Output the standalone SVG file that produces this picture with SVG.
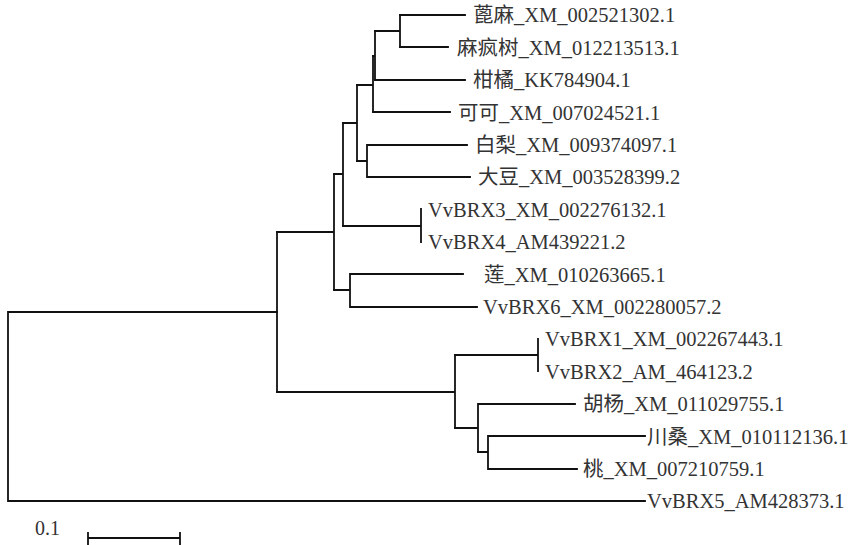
<svg xmlns="http://www.w3.org/2000/svg" width="853" height="545" viewBox="0 0 853 545">
<style>
.br{fill:none;stroke:#111;stroke-width:1.8;stroke-linecap:square}
.lb{fill:#333}
</style>
<rect width="853" height="545" fill="#fff"/>
<g id="connectors" class="br">
<path d="M8,312 V501 M8,312 H277 M8,501 H645"/>
<path d="M277,232 V392"/>
<path d="M277,232 H334 M334,174 V290"/>
<path d="M334,174 H343 M343,123 V226"/>
<path d="M343,123 H357 M357,85 V161"/>
<path d="M357,85 H373 M373,56 V112"/>
<path d="M373,56 H375 M375,31 V80"/>
<path d="M375,31 H400 M400,15 V47"/>
<path d="M400,15 H465 M400,47 H448 M375,80 H465 M373,112 H450"/>
<path d="M357,161 H367 M367,145 V177 M367,145 H467 M367,177 H470"/>
<path d="M343,226 H421 M421,209 V242"/>
<path d="M334,290 H350 M350,274 V307 M350,274 H463 M350,307 H477"/>
<path d="M277,392 H455 M455,355 V428"/>
<path d="M455,355 H538 M538,339 V371"/>
<path d="M455,428 H478 M478,404 V452 M478,404 H575"/>
<path d="M478,452 H488 M488,436 V469 M488,436 H645 M488,469 H577"/>
<path d="M88,538 H180 M88,533 V545 M180,533 V545"/>
</g>
<g font-family="'Liberation Serif', 'Times New Roman', 'DejaVu Serif', 'Noto Sans CJK SC', serif" font-size="20.5">
<g id="leaf-ricinus"><text class="lb" x="473" y="22">蓖麻_XM_002521302.1</text></g>
<g id="leaf-jatropha"><text class="lb" x="457" y="54.5">麻疯树_XM_012213513.1</text></g>
<g id="leaf-citrus"><text class="lb" x="473" y="87">柑橘_KK784904.1</text></g>
<g id="leaf-cacao"><text class="lb" x="458" y="119.5">可可_XM_007024521.1</text></g>
<g id="leaf-pear"><text class="lb" x="475" y="152">白梨_XM_009374097.1</text></g>
<g id="leaf-soybean"><text class="lb" x="478" y="184">大豆_XM_003528399.2</text></g>
<g id="leaf-vvbrx3"><text class="lb" x="428" y="216.5">VvBRX3_XM_002276132.1</text></g>
<g id="leaf-vvbrx4"><text class="lb" x="428" y="249">VvBRX4_AM439221.2</text></g>
<g id="leaf-lotus"><text class="lb" x="484" y="281.5">莲_XM_010263665.1</text></g>
<g id="leaf-vvbrx6"><text class="lb" x="483" y="314">VvBRX6_XM_002280057.2</text></g>
<g id="leaf-vvbrx1"><text class="lb" x="545" y="346">VvBRX1_XM_002267443.1</text></g>
<g id="leaf-vvbrx2"><text class="lb" x="545" y="378.5">VvBRX2_AM_464123.2</text></g>
<g id="leaf-populus"><text class="lb" x="583" y="411">胡杨_XM_011029755.1</text></g>
<g id="leaf-morus"><text class="lb" x="647" y="443.5">川桑_XM_010112136.1</text></g>
<g id="leaf-peach"><text class="lb" x="583" y="476">桃_XM_007210759.1</text></g>
<g id="leaf-vvbrx5"><text class="lb" x="647" y="508">VvBRX5_AM428373.1</text></g>
<g id="scale"><text class="lb" x="35" y="535" font-size="20">0.1</text></g>
</g>
</svg>
